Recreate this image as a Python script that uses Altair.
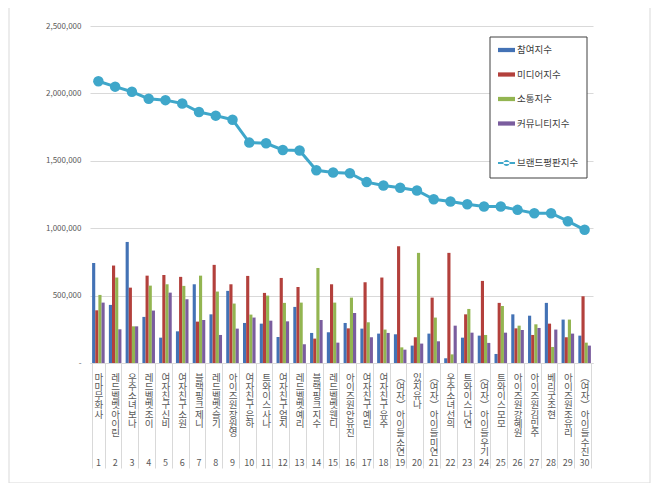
import altair as alt
import pandas as pd

names = ["마마무 화사", "레드벨벳 아이린", "우주소녀 보나", "레드벨벳 조이", "여자친구 신비",
         "여자친구 소원", "블랙핑크 제니", "레드벨벳 슬기", "아이즈원 장원영", "여자친구 은하",
         "트와이스 사나", "여자친구 엄지", "레드벨벳 예리", "블랙핑크 지수", "레드벨벳 웬디",
         "아이즈원 안유진", "여자친구 예린", "여자친구 유주", "(여자)아이들 소연", "있지 유나",
         "(여자)아이들 미연", "우주소녀 선의", "트와이스 나연", "(여자)아이들 우기", "트와이스 모모",
         "아이즈원 강혜원", "아이즈원 김민주", "베리굿 조현", "아이즈원 조유리", "(여자)아이들 수진"]
ranks = list(range(1, 31))

participation = [742000, 431000, 898000, 342000, 188000, 235000, 584000, 361000, 535000, 297000,
                 292000, 193000, 416000, 223000, 228000, 297000, 255000, 218000, 213000, 129000,
                 218000, 35000, 188000, 203000, 67000, 361000, 351000, 446000, 322000, 203000]
media = [391000, 723000, 559000, 648000, 653000, 639000, 307000, 728000, 584000, 646000,
         520000, 631000, 564000, 181000, 584000, 257000, 599000, 634000, 866000, 191000,
         485000, 817000, 361000, 609000, 446000, 257000, 208000, 292000, 191000, 495000]
communication = [505000, 634000, 272000, 574000, 584000, 572000, 648000, 530000, 441000, 359000,
                 500000, 446000, 448000, 705000, 448000, 485000, 302000, 248000, 116000, 817000,
                 337000, 64000, 401000, 208000, 423000, 277000, 287000, 119000, 322000, 151000]
community = [448000, 250000, 272000, 389000, 522000, 473000, 319000, 208000, 255000, 337000,
             314000, 309000, 139000, 319000, 151000, 371000, 191000, 223000, 99000, 144000,
             161000, 277000, 225000, 149000, 225000, 245000, 260000, 248000, 218000, 129000]
brand = [2090000, 2050000, 2012000, 1960000, 1950000, 1925000, 1862000, 1835000, 1805000, 1635000,
         1630000, 1580000, 1577000, 1430000, 1413000, 1408000, 1342000, 1317000, 1300000, 1280000,
         1215000, 1198000, 1178000, 1161000, 1161000, 1136000, 1111000, 1111000, 1052000, 988000]

bar_series = ["참여지수", "미디어지수", "소통지수", "커뮤니티지수"]
line_series = "브랜드평판지수"
bar_colors = ["#4372B5", "#B3403C", "#93B551", "#7A5D9E"]
line_color = "#3FA7CA"
y_ticks = [0, 500000, 1000000, 1500000, 2000000, 2500000]

rows = []
for s, vals in zip(bar_series, [participation, media, communication, community]):
    for n, v in zip(names, vals):
        rows.append({"name": n, "series": s, "value": v})
bars_df = pd.DataFrame(rows)
line_df = pd.DataFrame({"name": names, "lseries": line_series, "value": brand})
rank_df = pd.DataFrame({"name": names, "rank": ranks})
frame_df = pd.DataFrame({"a": [0]})

W, H = 503, 337
FONT = "Noto Sans CJK KR"
BAR_PATH = "M-1,-0.25H1V0.25H-1Z"
LINE_PATH = ("M-1,-0.12H1V0.12H-1Z M-0.36,0 A0.36,0.36 0 1,0 0.36,0 "
             "A0.36,0.36 0 1,0 -0.36,0 Z")

bar_legend = alt.Legend(
    title=None, orient="none", legendX=408, legendY=15.5, direction="vertical",
    padding=0, rowPadding=11.5, symbolSize=289, symbolType=BAR_PATH, symbolStrokeWidth=0,
    labelFont=FONT, labelFontSize=9.5, labelColor="#404040", labelOffset=2,
)
line_legend = alt.Legend(
    title=None, orient="none", legendX=408, legendY=128.5, direction="vertical",
    padding=0, symbolSize=289, symbolType=LINE_PATH, symbolStrokeWidth=0,
    labelFont=FONT, labelFontSize=9.5, labelColor="#404040", labelOffset=2,
)
line_scale = alt.Scale(domain=[line_series], range=[line_color])

x_axis = alt.Axis(
    title=None, labelAngle=0, labelFont=FONT, labelFontSize=9.5, labelLineHeight=9.3,
    labelBaseline="top", labelAlign="center", labelPadding=-96, labelColor="#595959",
    labelOverlap=False, labelBound=False, labelLimit=0, labelFlush=False,
    labelExpr="split(replace(replace(replace(datum.label, ' ', ''), '(', '︵'), ')', '︶'), '')",
    tickBand="extent", tickSize=105, tickColor="#D9D9D9", domainColor="#D9D9D9",
)
y_axis = alt.Axis(
    title=None, values=y_ticks, grid=True, gridColor="#D9D9D9", domain=False, ticks=False,
    labelFont=FONT, labelFontSize=8, labelColor="#595959", labelPadding=9,
    labelExpr="datum.value == 0 ? '-' : format(datum.value, ',')",
)
x_enc = alt.X("name:N", sort=names, axis=x_axis,
              scale=alt.Scale(paddingInner=0.25, paddingOuter=0.125))
y_enc = alt.Y("value:Q", axis=y_axis, scale=alt.Scale(domain=[0, 2500000], nice=False))

bars = alt.Chart(bars_df).mark_bar().encode(
    x=x_enc, y=y_enc,
    xOffset=alt.XOffset("series:N", sort=bar_series,
                        scale=alt.Scale(paddingInner=0, paddingOuter=0)),
    color=alt.Color("series:N", scale=alt.Scale(domain=bar_series, range=bar_colors),
                    legend=bar_legend),
)
line = alt.Chart(line_df).mark_line(strokeWidth=3).encode(
    x=alt.X("name:N", sort=names), y="value:Q",
    stroke=alt.Stroke("lseries:N", scale=line_scale, legend=line_legend),
)
points = alt.Chart(line_df).mark_point(filled=True, size=110, opacity=1).encode(
    x=alt.X("name:N", sort=names), y="value:Q",
    fill=alt.Fill("lseries:N", scale=line_scale, legend=line_legend),
)
rank_text = alt.Chart(rank_df).mark_text(font=FONT, fontSize=9, color="#595959", baseline="middle").encode(
    x=alt.X("name:N", sort=names), y=alt.value(H + 100), text="rank:N",
)
frame = alt.Chart(frame_df).mark_rect(fillOpacity=0, stroke="#D9D9D9", strokeWidth=1).encode(
    x=alt.value(-81), x2=alt.value(560), y=alt.value(-19), y2=alt.value(457),
)
legend_box = alt.Chart(frame_df).mark_rect(fill="white", stroke="#404040", strokeWidth=1).encode(
    x=alt.value(400), x2=alt.value(497), y=alt.value(11), y2=alt.value(152),
)

chart = alt.layer(bars, line, points, rank_text, frame, legend_box).properties(
    width=W, height=H,
    autosize=alt.AutoSizeParams(type="none"),
    padding={"left": 82, "top": 18, "right": 58, "bottom": 120},
).configure_view(strokeOpacity=0)

chart.save("out.html", embed_options={"renderer": "svg", "actions": False})
